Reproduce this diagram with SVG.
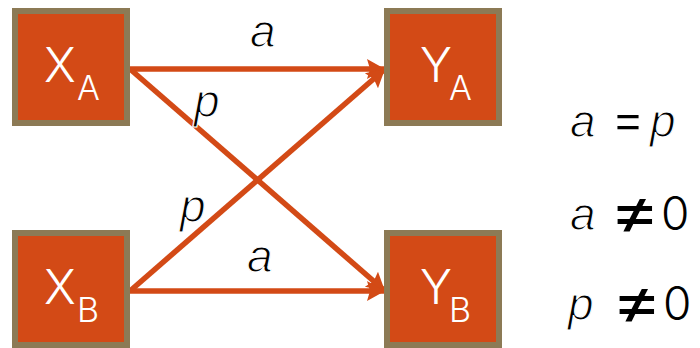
<svg xmlns="http://www.w3.org/2000/svg" width="700" height="348" viewBox="0 0 700 348">
<defs>
<style>
.box{fill:#D34A16;stroke:#8C7A55;stroke-width:6}
.big{font-family:Inter,"Liberation Sans",Arial,sans-serif;font-weight:300;font-size:48px;fill:#fff}
.sub{font-family:Inter,"Liberation Sans",Arial,sans-serif;font-weight:300;font-size:34px;fill:#fff}
.it{font-family:"Liberation Sans",Arial,sans-serif;font-size:46px;font-style:italic;fill:#000;stroke:#fff;stroke-width:1.2}
.up{font-family:Inter,"Liberation Sans",Arial,sans-serif;font-weight:300;font-size:46px;fill:#000}
.ne{font-family:Inter,"Liberation Sans",Arial,sans-serif;font-weight:400;font-size:60px;fill:#000}
.edge{stroke:#D34A16;stroke-width:5.5;fill:none;marker-end:url(#ah)}
</style>
<marker id="ah" markerUnits="userSpaceOnUse" markerWidth="20" markerHeight="22" refX="18" refY="11" orient="auto">
<path d="M0,1 L18,11 L0,21 L3,11 Z" fill="#D34A16"/>
</marker>
</defs>
<g id="connectors">
<line class="edge" x1="130" y1="69" x2="385" y2="69"/>
<line class="edge" x1="130" y1="69" x2="385" y2="291"/>
<line class="edge" x1="130" y1="291" x2="385" y2="69"/>
<line class="edge" x1="130" y1="291" x2="385" y2="291"/>
<text class="it" x="250" y="47">a</text>
<text class="it" x="194" y="117">p</text>
<text class="it" x="180" y="222">p</text>
<text class="it" x="247" y="272">a</text>
</g>
<g id="XA">
<rect class="box" x="15" y="11" width="112" height="112"/>
<text class="big" x="44" y="82">X</text><text class="sub" x="77" y="100">A</text>
</g>
<g id="XB">
<rect class="box" x="15" y="233" width="112" height="112"/>
<text class="big" x="44" y="304">X</text><text class="sub" x="77" y="322">B</text>
</g>
<g id="YA">
<rect class="box" x="387" y="11" width="112" height="112"/>
<text class="big" x="420" y="82">Y</text><text class="sub" x="449" y="100">A</text>
</g>
<g id="YB">
<rect class="box" x="387" y="233" width="112" height="112"/>
<text class="big" x="420" y="304">Y</text><text class="sub" x="449" y="322">B</text>
</g>
<g id="equations">
<text class="it" x="570" y="137">a</text>
<text class="up" x="611" y="137" style="font-size:52px">=</text>
<text class="it" x="650" y="137">p</text>
<text class="it" x="570" y="230">a</text>
<text class="ne" transform="translate(609,233) scale(1.3,1.05)">≠</text>
<text class="up" x="661" y="230">0</text>
<text class="it" x="568" y="320">p</text>
<text class="ne" transform="translate(611,323) scale(1.3,1.05)">≠</text>
<text class="up" x="663" y="320">0</text>
</g>
</svg>
